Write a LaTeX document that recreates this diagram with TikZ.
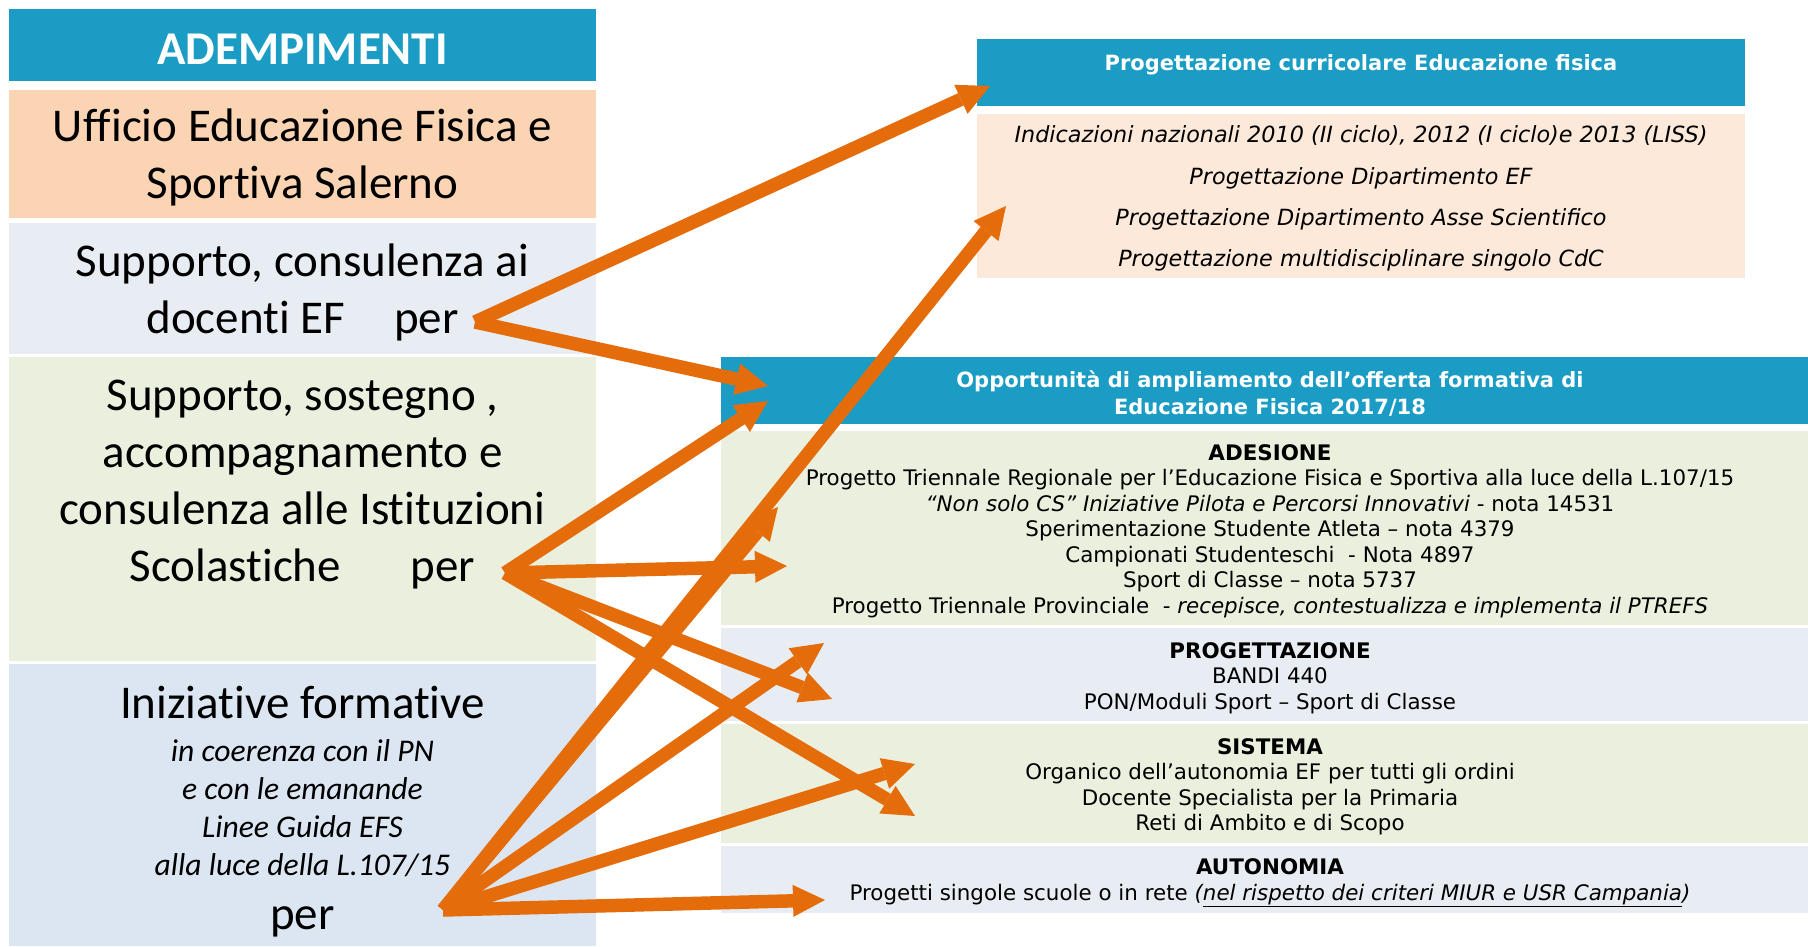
\documentclass[tikz,border=0pt]{standalone}
\usepackage{fontspec}
\setmainfont{Carlito}[Ligatures=CommonOff]
\newfontfamily\verdfont{DejaVu Sans}
\usepackage{tikz}
\usetikzlibrary{arrows.meta}
\definecolor{hdrblue}{HTML}{1A9CC4}
\definecolor{peach}{HTML}{FBD4B4}
\definecolor{palepeach}{HTML}{FDE9D9}
\definecolor{grayblue}{HTML}{E8EDF4}
\definecolor{palegreen}{HTML}{EBF0DE}
\definecolor{skyblue}{HTML}{DCE6F2}
\definecolor{linkorange}{HTML}{E46C0A}

\begin{document}
\begin{tikzpicture}
            [x=1pt, y=-1pt,
             panel/.style={rectangle, inner sep=0pt},
             bigtxt/.style={align=center, font=\fontsize{47}{57}\selectfont},
             hdtxt/.style={align=center, text=white, font=\verdfont\bfseries\fontsize{21}{27}\selectfont},
             lintxt/.style={align=center, font=\verdfont\fontsize{21.4}{25.5}\selectfont},
             link/.style={draw=linkorange, line width=13.5pt, -{Triangle[length=32pt,width=32pt,line width=0pt]}}]
            \useasboundingbox (0,0) rectangle (1808,946);
            \node (adem) [panel, fill=hdrblue, minimum width=587pt, minimum height=72pt] at (302.5,45) {};
            \node (ademtxt) [text=white, font=\bfseries\fontsize{47}{57}\selectfont] at (302.5,49) {ADEMPIMENTI};
            \node (uff) [panel, fill=peach, minimum width=587pt, minimum height=128pt] at (302.5,154) {};
            \node (ufftxt) [bigtxt] at (302.5,157) {Ufficio Educazione Fisica e\\Sportiva Salerno};
            \node (cons) [panel, fill=grayblue, minimum width=587pt, minimum height=131pt] at (302.5,288) {};
            \node (constxt) [bigtxt] at (302.5,292) {Supporto, consulenza ai\\docenti EF\hspace{49pt}per};
            \node (sost) [panel, fill=palegreen, minimum width=587pt, minimum height=304pt] at (302.5,509) {};
            \node (sosttxt) [bigtxt] at (302.5,485) {Supporto, sostegno ,\\accompagnamento e\\consulenza alle Istituzioni\\Scolastiche\hspace{70pt}per};
            \node (iniz) [panel, fill=skyblue, minimum width=587pt, minimum height=282pt] at (302.5,805) {};
            \node (iniztitle) [bigtxt] at (302.5,702) {Iniziative formative};
            \node (inizsub) [align=center, font=\itshape\fontsize{31.6}{38}\selectfont] at (302.5,808) {in coerenza con il PN\\e con le emanande\\Linee Guida EFS\\alla luce della L.107/15};
            \node (inizper) [bigtxt] at (302.5,922) {per};
            \node (curhdr) [panel, fill=hdrblue, minimum width=768pt, minimum height=67pt] at (1361,72.5) {};
            \node (curtitle) [hdtxt] at (1361,64.5) {Progettazione curricolare Educazione fisica};
            \node (indic) [panel, fill=palepeach, minimum width=768pt, minimum height=164pt] at (1361,196) {};
            \node (indictxt) [align=center, font=\verdfont\itshape\fontsize{22.3}{41.3}\selectfont] at (1361,198.5) {Indicazioni nazionali 2010 (II ciclo), 2012 (I ciclo)e 2013 (LISS)\\Progettazione Dipartimento EF\\Progettazione Dipartimento Asse Scientifico\\Progettazione multidisciplinare singolo CdC};
            \node (offhdr) [panel, fill=hdrblue, minimum width=1098pt, minimum height=67pt] at (1270,390.5) {};
            \node (offtxt) [hdtxt] at (1270,394) {Opportunità di ampliamento dell’offerta formativa di\\Educazione Fisica 2017/18};
            \node (ades) [panel, fill=palegreen, minimum width=1098pt, minimum height=194pt] at (1270,528) {};
            \node (adestxt) [lintxt] at (1270,531) {\textbf{ADESIONE}\\Progetto Triennale Regionale per l’Educazione Fisica e Sportiva alla luce della L.107/15\\\textit{“Non solo CS” Iniziative Pilota e Percorsi Innovativi} - nota 14531\\Sperimentazione Studente Atleta – nota 4379\\Campionati Studenteschi \ - Nota 4897\\Sport di Classe – nota 5737\\Progetto Triennale Provinciale \ - \textit{recepisce, contestualizza e implementa il PTREFS}};
            \node (prog) [panel, fill=grayblue, minimum width=1098pt, minimum height=93pt] at (1270,674.5) {};
            \node (progtxt) [lintxt] at (1270,678) {\textbf{PROGETTAZIONE}\\BANDI 440\\PON/Moduli Sport – Sport di Classe};
            \node (sist) [panel, fill=palegreen, minimum width=1098pt, minimum height=119pt] at (1270,783.5) {};
            \node (sisttxt) [lintxt] at (1270,787) {\textbf{SISTEMA}\\Organico dell’autonomia EF per tutti gli ordini\\Docente Specialista per la Primaria\\Reti di Ambito e di Scopo};
            \node (auto) [panel, fill=grayblue, minimum width=1098pt, minimum height=67pt] at (1270,879.5) {};
            \node (autotxt) [lintxt] at (1270,883) {\textbf{AUTONOMIA}\\Progetti singole scuole o in rete \textit{(\underline{nel rispetto dei criteri MIUR e USR Campania})}};
            \coordinate (consper) at (475,322);
            \coordinate (sostper) at (505,573);
            \coordinate (inizfoot) at (443,910);
            \coordinate (curtip) at (990,86);
            \coordinate (offtipA) at (768,386);
            \coordinate (offtipB) at (768,401);
            \coordinate (adestipA) at (787,566);
            \coordinate (adestipB) at (778,507);
            \coordinate (progtipA) at (832,699);
            \coordinate (progtipB) at (824,643);
            \coordinate (sisttipA) at (915,816);
            \coordinate (sisttipB) at (915,764);
            \coordinate (indictip) at (1006,206);
            \coordinate (autotip) at (825,900);
            \draw [link] (consper) -- (curtip);
            \draw [link] (consper) -- (offtipA);
            \draw [link] (sostper) -- (offtipB);
            \draw [link] (sostper) -- (adestipA);
            \draw [link] (sostper) -- (progtipA);
            \draw [link] (sostper) -- (sisttipA);
            \draw [link] (inizfoot) -- (indictip);
            \draw [link] (inizfoot) -- (adestipB);
            \draw [link] (inizfoot) -- (progtipB);
            \draw [link] (inizfoot) -- (sisttipB);
            \draw [link] (inizfoot) -- (autotip);
        \end{tikzpicture}
\end{document}
